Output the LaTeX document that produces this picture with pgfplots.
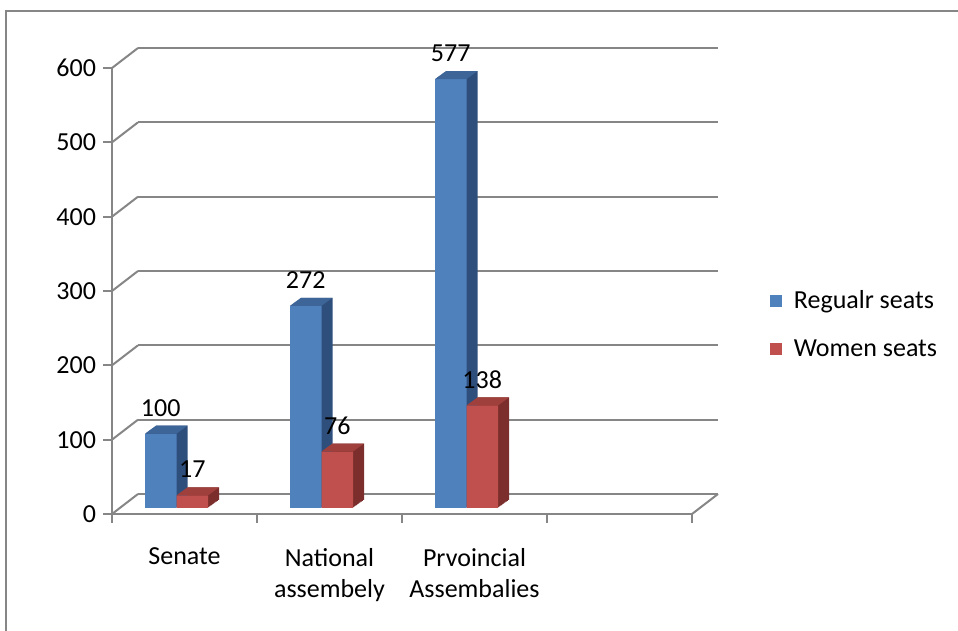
\documentclass[border=0pt]{standalone}
\usepackage{pgfplots}
\usepackage{pgfplotstable}
\pgfplotsset{compat=1.18}
\usepackage{fontspec}
\setmainfont{Carlito}
\definecolor{gridgray}{HTML}{868686}
\definecolor{bfront}{HTML}{4F81BD}
\definecolor{btop}{HTML}{3D6598}
\definecolor{bside}{HTML}{2E4F7C}
\definecolor{rfront}{HTML}{C0504D}
\definecolor{rtop}{HTML}{A0403D}
\definecolor{rside}{HTML}{7B2E2C}

\pgfdeclareplotmark{btopface}{%
  \pgfpathmoveto{\pgfqpoint{-19.75pt}{0pt}}%
  \pgfpathlineto{\pgfqpoint{-4pt}{0pt}}%
  \pgfpathlineto{\pgfqpoint{1.5pt}{4pt}}%
  \pgfpathlineto{\pgfqpoint{-14.25pt}{4pt}}%
  \pgfpathclose\pgfusepathqfill}
\pgfdeclareplotmark{rtopface}{%
  \pgfpathmoveto{\pgfqpoint{-4pt}{0pt}}%
  \pgfpathlineto{\pgfqpoint{11.75pt}{0pt}}%
  \pgfpathlineto{\pgfqpoint{17.25pt}{4pt}}%
  \pgfpathlineto{\pgfqpoint{1.5pt}{4pt}}%
  \pgfpathclose\pgfusepathqfill}

\pgfplotstableread{
x regular women
0 100 17
1 272 76
2 577 138
}\seats

\newcommand{\lblfont}{\fontsize{13}{15.5}\selectfont}

\pgfplotsset{
  frame/.style={scale only axis, width=290pt, height=223pt,
    xmin=-0.5, xmax=3.5, ymin=0, ymax=600, clip=false, anchor=south west},
  bare/.style={frame, axis line style={draw=none}, xtick=\empty, ytick=\empty},
}

\begin{document}
\begin{tikzpicture}
\useasboundingbox (0,0) rectangle (479pt,315.5pt);
\draw[gridgray, line width=1.2pt] (3pt,-5pt) -- (3pt,310pt) -- (485pt,310pt);

% back wall gridlines
\begin{axis}[bare, at={(69pt,68.5pt)}, ytick={0,100,...,600}, yticklabels={},
  ymajorgrids, major grid style={draw=gridgray, line width=1pt}, major tick length=0pt]
\end{axis}

% front frame
\begin{axis}[frame, at={(56pt,58.5pt)},
  axis x line*=bottom, axis y line*=left,
  axis line style={-, draw=gridgray, line width=1pt},
  tick align=outside, major tick length=4.5pt,
  tick style={draw=gridgray, line width=1pt},
  ytick={0,100,...,600},
  xtick={-0.5,0.5,...,3.5}, xticklabels={},
  extra x ticks={0,1,2},
  extra x tick labels={Senate,{National\\assembely},{Prvoincial\\Assembalies}},
  extra x tick style={major tick length=0pt},
  xticklabel style={align=center, anchor=north, yshift=-13.5pt},
  ticklabel style={font=\lblfont},
  /pgf/number format/assume math mode=true,
]
\pgfplotsinvokeforeach{0,100,...,600}{\draw[gridgray, line width=1pt] (axis cs:-0.5,#1) -- ++(13pt,10pt);}
\draw[gridgray, line width=1pt] (axis cs:3.5,0) -- ++(13pt,10pt);
\end{axis}

% 3D extrusion (side faces)
\foreach \t in {0.1,0.2,0.3,0.4,0.5,0.6,0.7,0.8,0.9,1.0}{
\begin{axis}[bare, at={(56pt,{61.5pt+4pt*\t})}]
\addplot[ybar, bar width=15.75pt, draw=none, fill=bside, bar shift={-11.875pt+5.5pt*\t}] table[x=x,y=regular]{\seats};
\addplot[ybar, bar width=15.75pt, draw=none, fill=rside, bar shift={3.875pt+5.5pt*\t}] table[x=x,y=women]{\seats};
\end{axis}}

% front faces, tops, labels, legend
\begin{axis}[bare, at={(56pt,61.5pt)},
  /pgf/number format/assume math mode=true,
  legend style={at={(1.1336,0.411)}, anchor=west, draw=none, fill=none,
    font=\lblfont, row sep=10pt, column sep=4pt, inner sep=0pt},
  legend cell align=left]
\addplot[forget plot, only marks, mark=btopface, mark options={fill=btop, draw=none}] table[x=x,y=regular]{\seats};
\addplot[ybar, bar width=15.75pt, bar shift=-11.875pt, draw=none, fill=bfront,
  nodes near coords, every node near coord/.append style={font=\lblfont, anchor=center, xshift=-11.875pt, yshift=13pt, text=black},
  legend image code/.code={\fill[bfront] (0pt,-3pt) rectangle (6pt,3pt);}] table[x=x,y=regular]{\seats};
\addlegendentry{Regualr seats}
\addplot[forget plot, only marks, mark=rtopface, mark options={fill=rtop, draw=none}] table[x=x,y=women]{\seats};
\addplot[ybar, bar width=15.75pt, bar shift=3.875pt, draw=none, fill=rfront,
  nodes near coords, every node near coord/.append style={font=\lblfont, anchor=center, xshift=3.875pt, yshift=13pt, text=black},
  legend image code/.code={\fill[rfront] (0pt,-3pt) rectangle (6pt,3pt);}] table[x=x,y=women]{\seats};
\addlegendentry{Women seats}
\end{axis}
\end{tikzpicture}
\end{document}
